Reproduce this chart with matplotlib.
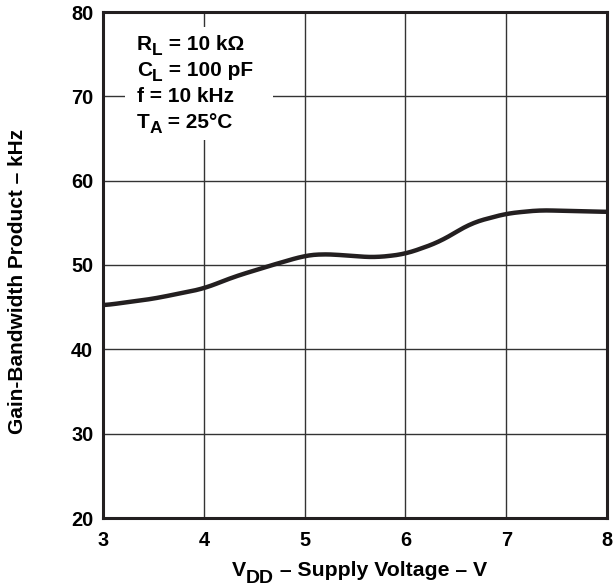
import matplotlib
matplotlib.use('Agg')
import matplotlib.pyplot as plt
from matplotlib.patches import Rectangle
from matplotlib.transforms import IdentityTransform
import numpy as np

# curve
vdd = [3.0, 3.5, 4.0, 4.3, 4.68, 5.0, 5.15, 5.35, 5.55, 5.71, 6.0, 6.33, 6.66, 7.0, 7.33, 7.65, 8.0]
gbw = [45.2, 46.0, 47.2, 48.6, 50.0, 51.1, 51.3, 51.2, 51.0, 50.9, 51.3, 52.7, 55.0, 56.1, 56.5, 56.4, 56.3]

x_ticks = [3, 4, 5, 6, 7, 8]
y_ticks = [20, 30, 40, 50, 60, 70, 80]

# conditions box: (main text, subscript, rest)
cond_lines = [('R', 'L', ' = 10 kΩ'),
              ('C', 'L', ' = 100 pF'),
              ('f = 10 kHz', '', ''),
              ('T', 'A', ' = 25°C')]

plt.rcParams['font.family'] = ['Liberation Sans', 'DejaVu Sans']
plt.rcParams['font.weight'] = 'bold'

W, H = 616, 586
fig = plt.figure(figsize=(W / 100, H / 100), dpi=100)
ax = fig.add_axes([103 / W, 1 - 518 / H, 504 / W, 506 / H])

# smooth the read points a little for drawing
xs = np.linspace(vdd[0], vdd[-1], 300)
ys = np.interp(xs, vdd, gbw)
k = np.ones(15) / 15
ys_s = np.convolve(np.pad(ys, 7, mode='edge'), k, mode='valid')
ax.plot(xs, ys_s, color='#231f20', lw=3.2, solid_capstyle='butt', zorder=3)

ax.set_xlim(3, 8)
ax.set_ylim(20, 80)
ax.set_xticks(x_ticks)
ax.set_yticks(y_ticks)
ax.tick_params(length=0, labelsize=14.3, pad=7)
ax.tick_params(axis='x', pad=9)
for lab in ax.get_xticklabels() + ax.get_yticklabels():
    lab.set_fontweight('bold')
ax.grid(True, color='#333333', lw=1.0)
ax.set_axisbelow(True)
for s in ax.spines.values():
    s.set_linewidth(2.2)
    s.set_color('#231f20')

# white patch behind the conditions text
ax.add_patch(Rectangle((22 / 504, 1 - 128 / 506), 148 / 504, 113 / 506,
                       transform=ax.transAxes, facecolor='white', edgecolor='none', zorder=2))

renderer = fig.canvas.get_renderer()


def rich(x, y, parts):
    # parts: (text, fontsize, drop in px); x, y in image pixels (baseline)
    for s, size, drop in parts:
        if not s:
            continue
        t = fig.text(x, H - y - drop, s, transform=IdentityTransform(), fontsize=size,
                     fontweight='bold', va='baseline', ha='left', zorder=5)
        x += t.get_window_extent(renderer).width


for i, (main, sub, rest) in enumerate(cond_lines):
    yb = [50, 76, 102, 128][i]
    rich(137, yb, [(main, 15, 0), (sub, 12.5, 5), (rest, 15, 0)])

rich(232, 576, [('V', 15.3, 0), ('DD', 14, 7), (' – Supply Voltage – V', 15.3, 0)])

fig.text(18 / W, 1 - 281 / H, 'Gain-Bandwidth Product – kHz', rotation=90,
         fontsize=15, fontweight='bold', ha='center', va='center')

fig.savefig('out.png', dpi=100)
